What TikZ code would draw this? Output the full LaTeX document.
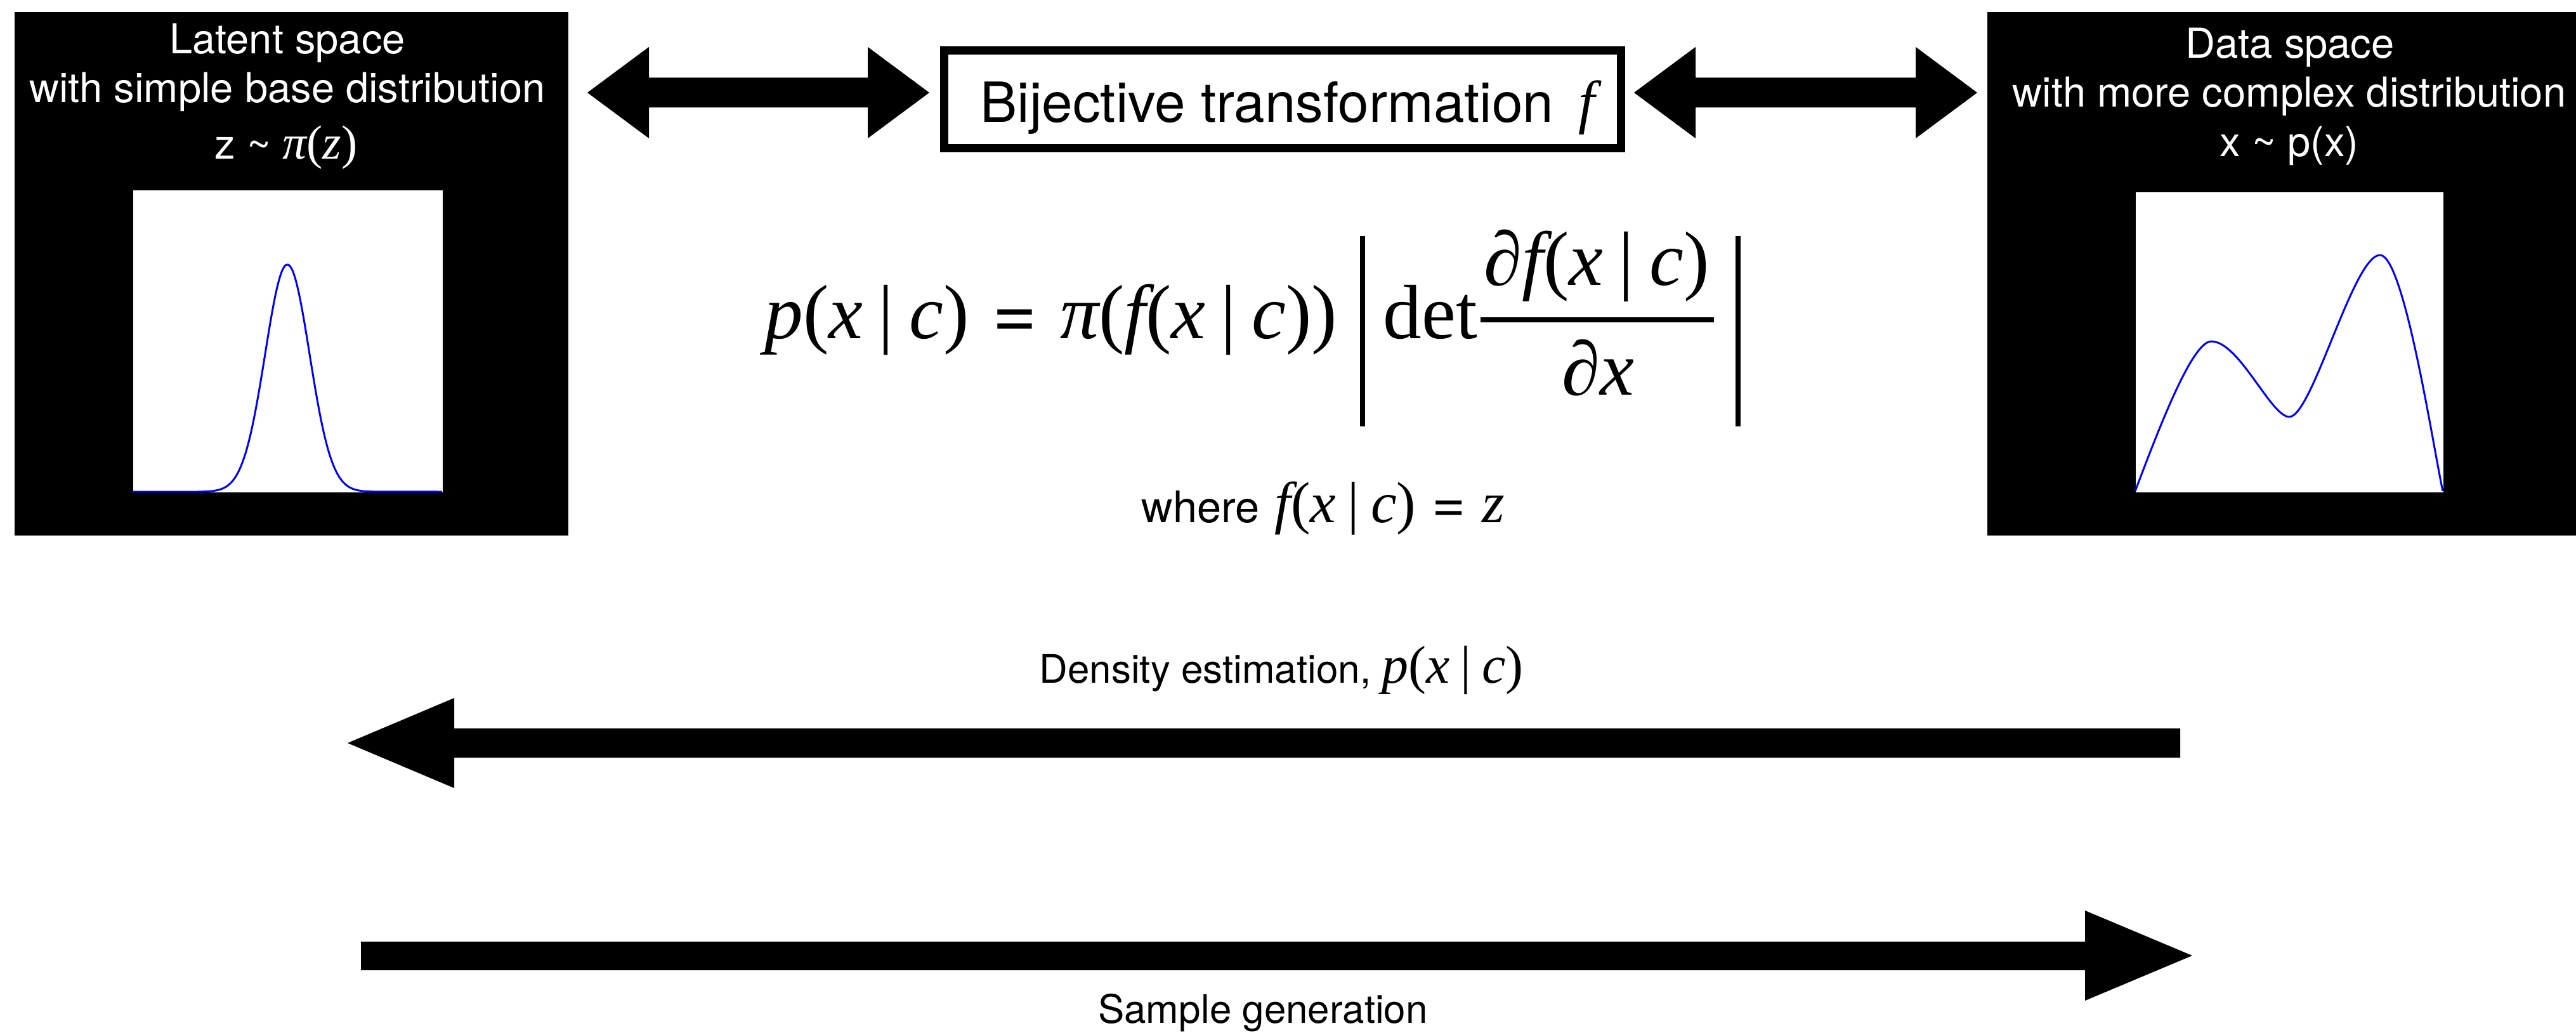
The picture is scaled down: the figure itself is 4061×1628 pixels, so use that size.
\documentclass[tikz,border=0pt]{standalone}
\usepackage{fontspec}
\setmainfont{TeX Gyre Heros}
\newfontfamily\tms{Liberation Serif}
\newcommand\mi[1]{{\tms\itshape #1}}
\newcommand\mup[1]{{\tms #1}}
\newcommand\vbar{\hspace{.2em}{\tms|}\hspace{.2em}}
\begin{document}
\begin{tikzpicture}[x=0.01cm,y=-0.01cm]
\useasboundingbox (0,0) rectangle (4061,1628);
\tikzset{
  spacebox/.style={fill=black, inner sep=0, anchor=north west},
  plotarea/.style={fill=white, inner sep=0, anchor=north west},
  hdr/.style={text=white, inner sep=0, anchor=base, font=\fontsize{18.5}{22}\selectfont},
  txt/.style={inner sep=0, anchor=base, font=\fontsize{17.6}{21}\selectfont},
  density/.style={blue, line width=0.85pt, line join=round},
  fat/.style={fill=black},
  bar/.style={line width=2.28pt},
  bijbox/.style={draw=black, line width=3.84pt, fill=white, inner sep=0},
  eq/.style={inner sep=0, font=\fontsize{34.5}{38}\selectfont}
}
% latent space box
\node[spacebox, minimum width=8.73cm, minimum height=8.25cm] (latent) at (22,18) {};
\node[plotarea, minimum width=4.88cm, minimum height=4.76cm] (lplot) at (209,299) {};
\node[hdr] (lat1) at (453,85) {Latent space};
\node[hdr] (lat2) at (453,162) {with simple base distribution};
\node[hdr] (lat3) at (451,251) {z \textasciitilde\ {\fontsize{21.5}{24}\selectfont\mi{π}\mup{(}\mi{z}\mup{)}}};
\draw[density] (209,775) -- (313,775)
  plot[domain=313:593, samples=160] (\x,{775-358*exp(-((\x-453)/35)^2/2)})
  -- (697,775);
% data space box
\node[spacebox, minimum width=9.29cm, minimum height=8.25cm] (data) at (3132,18) {};
\node[plotarea, minimum width=4.85cm, minimum height=4.73cm] (rplot) at (3366,302) {};
\node[hdr] (dat1) at (3610,92) {Data space};
\node[hdr] (dat2) at (3609,169) {with more complex distribution};
\node[hdr] (dat3) at (3609,247) {x \textasciitilde\ p(x)};
\draw[density] (3366,774) .. controls (3401,682) and (3455,538) .. (3486,538)
  .. controls (3530,538) and (3580,657) .. (3609,657)
  .. controls (3645,657) and (3710,402) .. (3752,402)
  .. controls (3790,402) and (3836,706) .. (3851,774);
% bijective transformation
\node[bijbox, minimum width=10.665cm, minimum height=1.535cm] (bij) at (2022,156.5) {};
\node[inner sep=0, anchor=base, font=\fontsize{24.8}{28}\selectfont] (bijtxt) at (2030,193)
  {Bijective transformation\hspace{.45em}{\fontsize{26.5}{28}\selectfont\mi{f}}};
% double arrows
\fill[fat] (926,146) -- (1023,74) -- (1023,122.5) -- (1368,122.5) -- (1368,74)
  -- (1465,146) -- (1368,218) -- (1368,169.5) -- (1023,169.5) -- (1023,218) -- cycle;
\fill[fat] (2576,146) -- (2673,74) -- (2673,122.5) -- (3020,122.5) -- (3020,74)
  -- (3117,146) -- (3020,218) -- (3020,169.5) -- (2673,169.5) -- (2673,218) -- cycle;
% formula
\node[eq, anchor=base west] (eqlhs) at (1205,534)
  {\mi{p}\mup{(}\mi{x}\vbar\mi{c}\mup{)}\hspace{.3em}=\hspace{.3em}\mi{π}\mup{(}\mi{f}\mup{(}\mi{x}\vbar\mi{c}\mup{))}};
\node[eq, anchor=base west] (det) at (2180,534) {\mup{det}};
\node[eq, anchor=base] (num) at (2517,450) {\mi{∂f}\mup{(}\mi{x}\vbar\mi{c}\mup{)}};
\node[eq, anchor=base] (den) at (2519,623) {\mi{∂x}};
\draw[bar] (2334,504) -- (2702,504);
\draw[bar] (2148,372) -- (2148,672);
\draw[bar] (2740,372) -- (2740,672);
\node[inner sep=0, anchor=base west, font=\fontsize{19.5}{22}\selectfont] (where) at (1799,823)
  {where\hspace{.35em}{\fontsize{26}{28}\selectfont\mi{f}\mup{(}\mi{x}\vbar\mi{c}\mup{)}\hspace{.28em}=\hspace{.28em}\mi{z}}};
% bottom arrows
\fill[fat] (548,1171) -- (716,1100) -- (716,1148) -- (3437,1148) -- (3437,1194)
  -- (716,1194) -- (716,1242) -- cycle;
\node[txt] (dens) at (2020,1076)
  {Density estimation, {\fontsize{23.9}{26}\selectfont\mi{p}\mup{(}\mi{x}\vbar\mi{c}\mup{)}}};
\fill[fat] (569,1484) -- (3287,1484) -- (3287,1435) -- (3456,1506) -- (3287,1577)
  -- (3287,1529) -- (569,1529) -- cycle;
\node[txt] (samp) at (1991,1612) {Sample generation};
\end{tikzpicture}
\end{document}
